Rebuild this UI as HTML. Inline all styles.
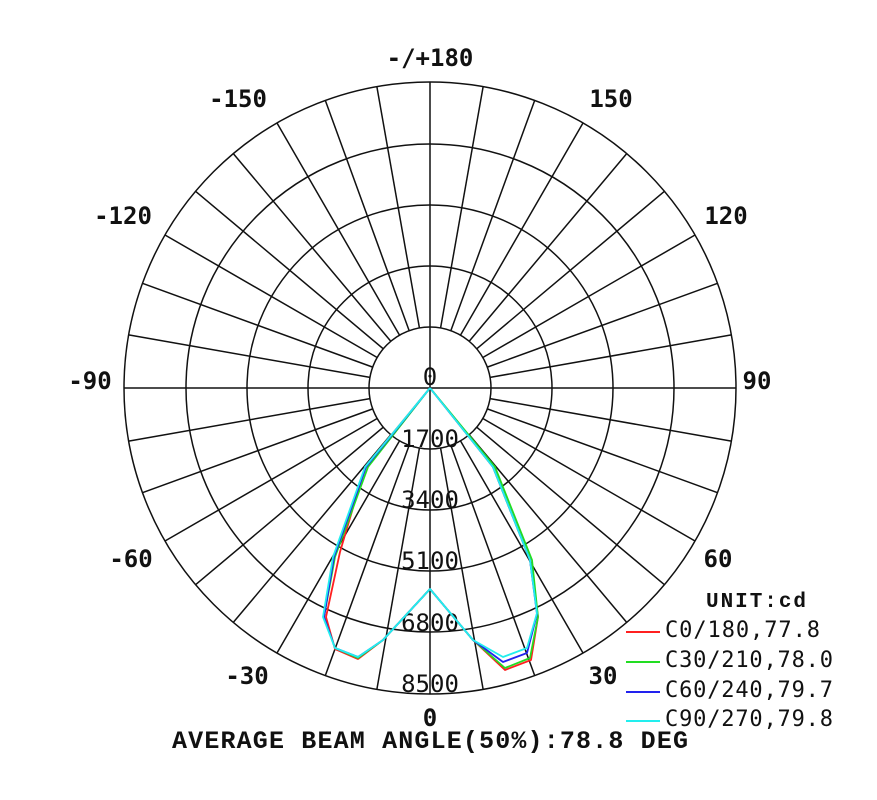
<!DOCTYPE html>
<html><head><meta charset="utf-8"><style>body{margin:0;background:#fff}svg{display:block}</style></head>
<body>
<svg width="877" height="800" viewBox="0 0 877 800" xmlns="http://www.w3.org/2000/svg">
<g fill="none" stroke="#111" stroke-width="1.5">
<circle cx="430" cy="388" r="61"/>
<circle cx="430" cy="388" r="122"/>
<circle cx="430" cy="388" r="183"/>
<circle cx="430" cy="388" r="244"/>
<circle cx="430" cy="388" r="306"/>
<line x1="430" y1="82" x2="430" y2="694"/>
<line x1="124" y1="388" x2="736" y2="388"/>
<line x1="430" y1="449" x2="430" y2="694" transform="rotate(10 430 388)"/>
<line x1="430" y1="449" x2="430" y2="694" transform="rotate(20 430 388)"/>
<line x1="430" y1="449" x2="430" y2="694" transform="rotate(30 430 388)"/>
<line x1="430" y1="449" x2="430" y2="694" transform="rotate(40 430 388)"/>
<line x1="430" y1="449" x2="430" y2="694" transform="rotate(50 430 388)"/>
<line x1="430" y1="449" x2="430" y2="694" transform="rotate(60 430 388)"/>
<line x1="430" y1="449" x2="430" y2="694" transform="rotate(70 430 388)"/>
<line x1="430" y1="449" x2="430" y2="694" transform="rotate(80 430 388)"/>
<line x1="430" y1="449" x2="430" y2="694" transform="rotate(100 430 388)"/>
<line x1="430" y1="449" x2="430" y2="694" transform="rotate(110 430 388)"/>
<line x1="430" y1="449" x2="430" y2="694" transform="rotate(120 430 388)"/>
<line x1="430" y1="449" x2="430" y2="694" transform="rotate(130 430 388)"/>
<line x1="430" y1="449" x2="430" y2="694" transform="rotate(140 430 388)"/>
<line x1="430" y1="449" x2="430" y2="694" transform="rotate(150 430 388)"/>
<line x1="430" y1="449" x2="430" y2="694" transform="rotate(160 430 388)"/>
<line x1="430" y1="449" x2="430" y2="694" transform="rotate(170 430 388)"/>
<line x1="430" y1="449" x2="430" y2="694" transform="rotate(190 430 388)"/>
<line x1="430" y1="449" x2="430" y2="694" transform="rotate(200 430 388)"/>
<line x1="430" y1="449" x2="430" y2="694" transform="rotate(210 430 388)"/>
<line x1="430" y1="449" x2="430" y2="694" transform="rotate(220 430 388)"/>
<line x1="430" y1="449" x2="430" y2="694" transform="rotate(230 430 388)"/>
<line x1="430" y1="449" x2="430" y2="694" transform="rotate(240 430 388)"/>
<line x1="430" y1="449" x2="430" y2="694" transform="rotate(250 430 388)"/>
<line x1="430" y1="449" x2="430" y2="694" transform="rotate(260 430 388)"/>
<line x1="430" y1="449" x2="430" y2="694" transform="rotate(280 430 388)"/>
<line x1="430" y1="449" x2="430" y2="694" transform="rotate(290 430 388)"/>
<line x1="430" y1="449" x2="430" y2="694" transform="rotate(300 430 388)"/>
<line x1="430" y1="449" x2="430" y2="694" transform="rotate(310 430 388)"/>
<line x1="430" y1="449" x2="430" y2="694" transform="rotate(320 430 388)"/>
<line x1="430" y1="449" x2="430" y2="694" transform="rotate(330 430 388)"/>
<line x1="430" y1="449" x2="430" y2="694" transform="rotate(340 430 388)"/>
<line x1="430" y1="449" x2="430" y2="694" transform="rotate(350 430 388)"/>
</g>
<g font-family="'DejaVu Sans Mono','Liberation Mono',monospace" font-weight="bold" font-size="24" fill="#111" text-anchor="middle">
<text x="430" y="66">-/+180</text>
<text x="611" y="107">150</text>
<text x="238" y="107">-150</text>
<text x="726" y="224">120</text>
<text x="123" y="224">-120</text>
<text x="757" y="389">90</text>
<text x="90" y="389">-90</text>
<text x="718" y="567">60</text>
<text x="131" y="567">-60</text>
<text x="603" y="684">30</text>
<text x="247" y="684">-30</text>
<text x="430" y="726">0</text>
</g>
<g font-family="'DejaVu Sans Mono','Liberation Mono',monospace" font-size="24" fill="#111" text-anchor="middle">
<text x="430" y="385">0</text>
<text x="430" y="447">1700</text>
<text x="430" y="508">3400</text>
<text x="430" y="569">5100</text>
<text x="430" y="631">6800</text>
<text x="430" y="692">8500</text>
</g>
<g fill="none" stroke-width="1.8" stroke-linejoin="round">
<polyline stroke="#ff2020" points="430,388 493,467 530,560 538,617 531,660 505,670 473,640 430,589 383,640 358,659 335,649 326,617 340,552 365,467 430,388"/>
<polyline stroke="#22dd22" points="430,388 495,467 532,560 538,617 530,658 505,668 473,640 430,589 383,640 358,658 335,648 324,617 335,557 368,467 430,388"/>
<polyline stroke="#2222ee" points="430,388 493,467 530,560 537,614 527,653 503,662 473,640 430,589 383,640 358,657 335,648 324,617 334,557 366,467 430,388"/>
<polyline stroke="#22eeee" points="430,388 493,467 530,560 537,613 527,648 503,657 473,640 430,589 383,640 358,657 335,648 323,617 333,557 365,467 430,388"/>
</g>
<text x="706" y="607" font-family="'Liberation Mono',monospace" font-weight="bold" font-size="21" textLength="100" fill="#111">UNIT:cd</text>
<g stroke-width="2">
<line x1="626" y1="632" x2="660" y2="632" stroke="#ff2020"/>
<line x1="626" y1="662" x2="660" y2="662" stroke="#22dd22"/>
<line x1="626" y1="692" x2="660" y2="692" stroke="#2222ee"/>
<line x1="626" y1="721" x2="660" y2="721" stroke="#22eeee"/>
</g>
<g font-family="'DejaVu Sans Mono','Liberation Mono',monospace" font-size="22" fill="#111">
<text x="665" y="637" textLength="155">C0/180,77.8</text>
<text x="665" y="667" textLength="168">C30/210,78.0</text>
<text x="665" y="697" textLength="168">C60/240,79.7</text>
<text x="665" y="726" textLength="168">C90/270,79.8</text>
</g>
<text x="172" y="748" font-family="'Liberation Mono',monospace" font-weight="bold" font-size="25" textLength="516" fill="#111">AVERAGE BEAM ANGLE(50%):78.8 DEG</text>
</svg>
</body></html>
